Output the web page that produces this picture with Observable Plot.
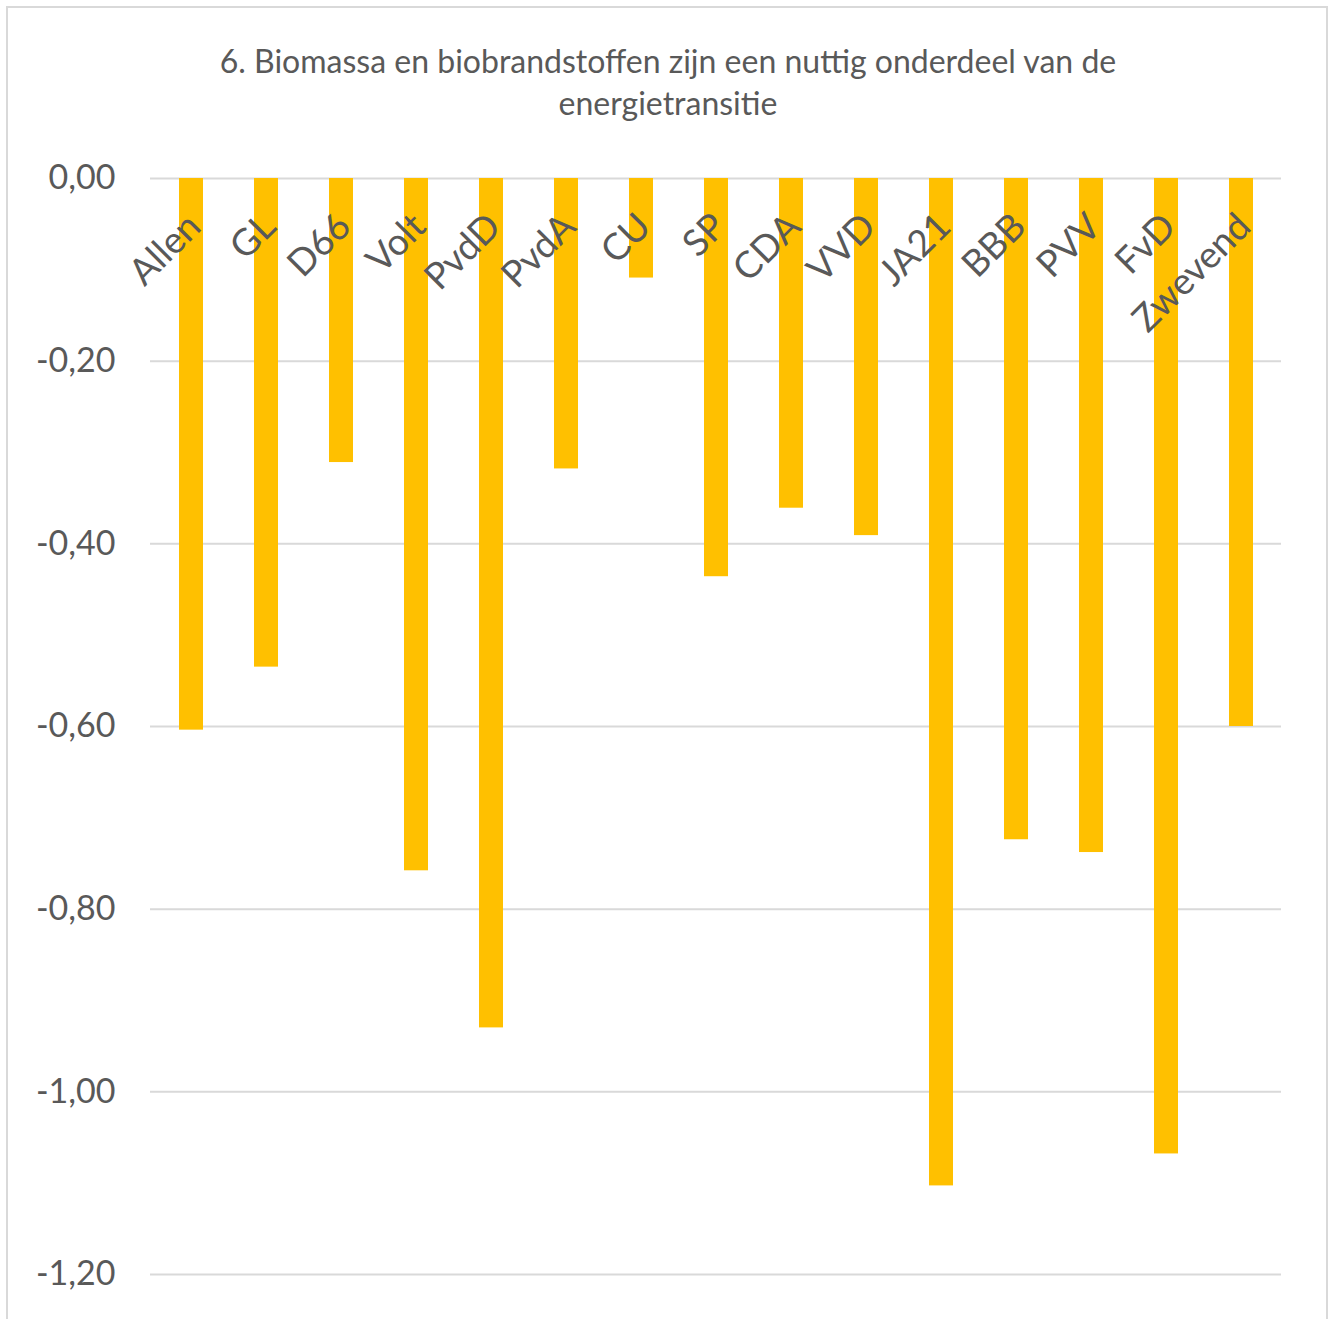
<!DOCTYPE html>
<html>
<head>
<meta charset="utf-8">
<script src="https://cdn.jsdelivr.net/npm/d3@7"></script>
<script src="https://cdn.jsdelivr.net/npm/@observablehq/plot@0.6"></script>
<style>
  html, body { margin: 0; padding: 0; background: #fff; }
  #frame {
    position: absolute; left: 6px; top: 6px; width: 1322px; height: 1330px;
    border-top: 2px solid #d9d9d9; border-left: 2px solid #d9d9d9; border-right: 2px solid #d9d9d9;
    box-sizing: border-box;
  }
  #title {
    position: absolute; left: 0; top: 40px; width: 1336px; text-align: center;
    font-family: Lato, sans-serif; font-size: 32px; line-height: 42px; color: #595959;
  }
  #chart { position: absolute; left: 0; top: 140px; }
</style>
</head>
<body>
<div id="frame"></div>
<div id="title">6. Biomassa en biobrandstoffen zijn een nuttig onderdeel van de<br>energietransitie</div>
<div id="chart"></div>
<script>
const parties = ["Allen", "GL", "D66", "Volt", "PvdD", "PvdA", "CU", "SP", "CDA", "VVD", "JA21", "BBB", "PVV", "FvD", "Zwevend"];
const values = [-0.604, -0.535, -0.311, -0.758, -0.930, -0.318, -0.109, -0.436, -0.361, -0.391, -1.103, -0.724, -0.738, -1.068, -0.600];
const yTicks = [0, -0.2, -0.4, -0.6, -0.8, -1.0, -1.2];

const data = parties.map((p, i) => ({party: p, value: values[i]}));
const fmt = d => d.toFixed(2).replace(".", ",");

const plot = Plot.plot({
  width: 1331,
  height: 1179,
  marginLeft: 150,
  marginRight: 50,
  marginTop: 38,
  marginBottom: 45,
  style: {fontFamily: "Lato, sans-serif", color: "#595959", background: "transparent"},
  x: {domain: parties, paddingInner: 0.68, paddingOuter: 0.34, axis: null},
  y: {domain: [-1.2, 0], ticks: yTicks, tickFormat: fmt, label: null},
  marks: [
    Plot.ruleY(yTicks, {stroke: "#d9d9d9", strokeWidth: 2}),
    Plot.axisY({ticks: yTicks, tickFormat: fmt, tickSize: 0, tickPadding: 35, fontSize: 34, label: null, fill: "#595959"}),
    Plot.barY(data, {x: "party", y: "value", fill: "#FFC000"}),
    Plot.text(data, {x: "party", y: () => 0, text: "party", rotate: -45, textAnchor: "end", fontSize: 37, fill: "#595959", dx: 3, dy: 42})
  ]
});
document.getElementById("chart").appendChild(plot);
</script>
</body>
</html>
